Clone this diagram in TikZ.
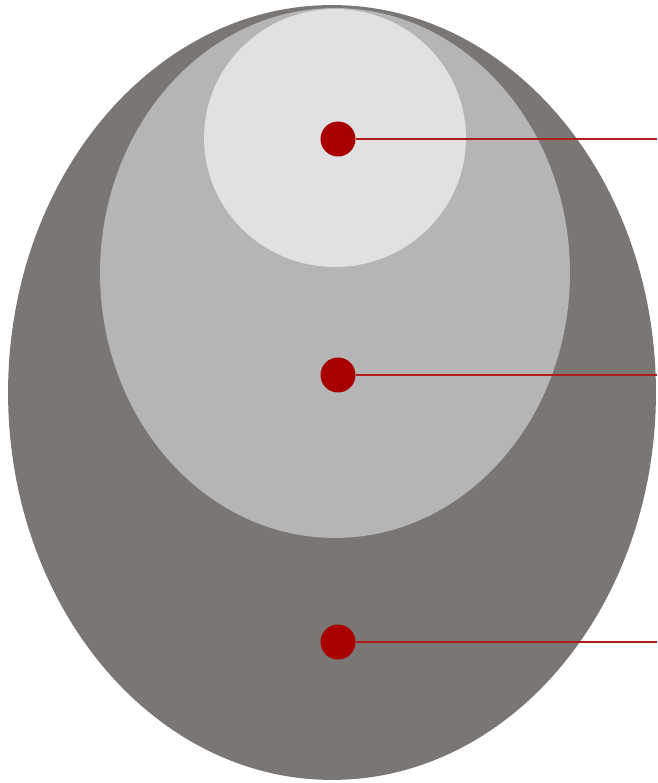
\documentclass[tikz,border=0pt]{standalone}
\usepackage{xcolor}
\usepackage{tikz}
\usetikzlibrary{positioning}

\definecolor{outergray}{HTML}{7A7673}
\definecolor{midgray}{HTML}{B5B5B5}
\definecolor{innergray}{HTML}{E1E1E1}
\definecolor{dotred}{HTML}{A80000}
\definecolor{linered}{HTML}{B01C1C}

\begin{document}
\begin{tikzpicture}[
  x=0.02cm, y=-0.02cm,
  dot/.style={circle, fill=dotred, inner sep=0pt, minimum size=0.7cm},
  leader/.style={draw=linered, line width=0.85pt}
]
\useasboundingbox (0,0) rectangle (657,783);
% nested layers
\fill[outergray] (332,392.5) ellipse [x radius=6.48cm, y radius=7.75cm];
\fill[midgray] (335,273) ellipse [x radius=4.70cm, y radius=5.30cm];
\fill[innergray] (335,138) ellipse [x radius=2.62cm, y radius=2.58cm];
% markers
\node[dot] (d1) at (338,139) {};
\node[dot] (d2) at (338,375) {};
\node[dot] (d3) at (338,642) {};
\coordinate (e1) at (657,139);
\coordinate (e2) at (657,375);
\coordinate (e3) at (657,642);
\draw[leader] (d1) -- (e1);
\draw[leader] (d2) -- (e2);
\draw[leader] (d3) -- (e3);
\end{tikzpicture}
\end{document}
